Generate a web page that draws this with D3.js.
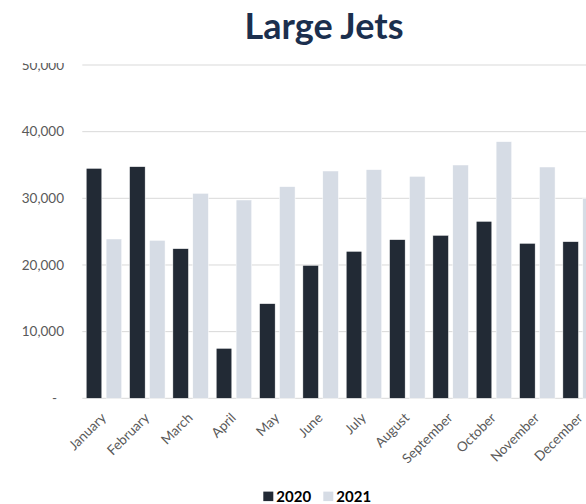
<!DOCTYPE html>
<html>
<head>
<meta charset="utf-8">
<script src="https://cdn.jsdelivr.net/npm/d3@7"></script>
<style>
  body { margin: 0; background: #fff; }
  svg { display: block; font-family: Lato, "Open Sans", sans-serif; }
</style>
</head>
<body>
<script>
var months = ["January", "February", "March", "April", "May", "June", "July",
    "August", "September", "October", "November", "December"];
var series = ["2020", "2021"];
var values2020 = [34500, 34750, 22450, 7500, 14200, 19950, 22050, 23800, 24450, 26550, 23250, 23500];
var values2021 = [23900, 23700, 30750, 29750, 31750, 34100, 34300, 33300, 35000, 38500, 34700, 30000];
var yTicks = [0, 10000, 20000, 30000, 40000, 50000];
var colors = ["#222a35", "#d6dce5"];

function draw_chart() {

    var svg = d3.select("body").append("svg").attr("width", 586).attr("height", 504),
        margin = {top: 65, left: 82.3},
        width = 520,
        height = 333.3;

    var data = months.map(function (m, i) {
        return {month: m, values: [values2020[i], values2021[i]]};
    });

    var x0 = d3.scaleBand().domain(months).range([0, width]).paddingInner(0.18).paddingOuter(0.09);
    var x1 = d3.scaleBand().domain(series).range([0, x0.bandwidth()]).paddingInner(0.216);
    var y = d3.scaleLinear().domain([0, 50000]).range([height, 0]);
    var z = d3.scaleOrdinal().domain(series).range(colors);

    var g = svg.append("g")
        .attr("transform", "translate(" + margin.left + "," + margin.top + ")");

    // gridlines
    g.append("g")
        .selectAll("line")
        .data(yTicks)
        .enter().append("line")
        .attr("x1", 0)
        .attr("x2", width)
        .attr("y1", function (d) { return y(d); })
        .attr("y2", function (d) { return y(d); })
        .attr("stroke", "#d9d9d9")
        .attr("stroke-width", 1);

    // y labels (top one is cut like in the original)
    svg.append("clipPath").attr("id", "yclip")
        .append("rect").attr("x", 0).attr("y", 63).attr("width", 80).attr("height", 400);

    var fmt = d3.format(",");
    svg.append("g")
        .attr("clip-path", "url(#yclip)")
        .selectAll("text")
        .data(yTicks)
        .enter().append("text")
        .attr("x", function (d) { return d === 0 ? 57 : 64; })
        .attr("y", function (d) { return margin.top + y(d); })
        .attr("dy", "0.35em")
        .attr("text-anchor", "end")
        .attr("fill", "#595959")
        .style("font-size", "13.5px")
        .text(function (d) { return d === 0 ? "-" : fmt(d); });

    // bars
    var groups = g.selectAll(".gr")
        .data(data)
        .enter().append("g")
        .attr("class", "gr")
        .attr("transform", function (d) {
            return "translate(" + x0(d.month) + ",0)";
        });

    groups.selectAll("rect")
        .data(function (d) {
            return d.values.map(function (v, i) { return {key: series[i], value: v}; });
        })
        .enter().append("rect")
        .attr("x", function (d) { return x1(d.key); })
        .attr("y", function (d) { return y(d.value); })
        .attr("width", x1.bandwidth())
        .attr("height", function (d) { return height - y(d.value); })
        .attr("fill", function (d) { return z(d.key); })
        .attr("stroke", "#ffffff")
        .attr("stroke-width", 0.5);

    // month labels
    g.append("g")
        .selectAll("text")
        .data(months)
        .enter().append("text")
        .attr("transform", function (d) {
            return "translate(" + (x0(d) + x0.bandwidth() / 2 - 0.5) + "," + (height + 17) + ") rotate(-45)";
        })
        .attr("text-anchor", "end")
        .attr("dy", "0.35em")
        .attr("fill", "#595959")
        .style("font-size", "13.5px")
        .text(function (d) { return d; });

    // title
    svg.append("text")
        .attr("x", 324)
        .attr("y", 39)
        .attr("text-anchor", "middle")
        .attr("fill", "#1b2f4e")
        .style("font-size", "36px")
        .style("font-weight", "bold")
        .text("Large Jets");

    // legend
    var legend = svg.append("g").attr("transform", "translate(263.3,496.3)");
    var items = legend.selectAll(".lg")
        .data(series)
        .enter().append("g")
        .attr("class", "lg")
        .attr("transform", function (d, i) { return "translate(" + (i * 60) + ",0)"; });
    items.append("rect")
        .attr("x", 0).attr("y", -4.7)
        .attr("width", 10).attr("height", 9.5)
        .attr("fill", function (d) { return z(d); });
    items.append("text")
        .attr("x", 13)
        .attr("dy", "0.36em")
        .attr("fill", "#000")
        .style("font-size", "15px")
        .style("font-weight", "bold")
        .text(function (d) { return d; });
}

draw_chart();
</script>
</body>
</html>
